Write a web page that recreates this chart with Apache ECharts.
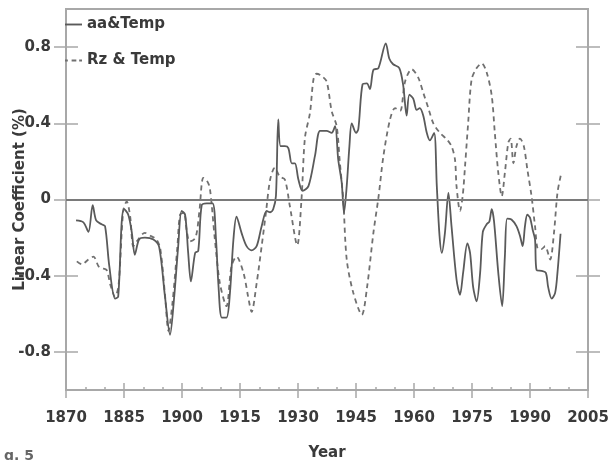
<!DOCTYPE html>
<html>
<head>
<meta charset="utf-8">
<script src="https://cdn.jsdelivr.net/npm/echarts@6/dist/echarts.min.js"></script>
<style>html,body{margin:0;padding:0;background:#fff}#c{width:610px;height:460px}</style>
</head>
<body>
<div id="c"></div>
<script>
var aaYears = [1872.6,1874.5,1875.8,1876.9,1877.8,1879.2,1880.1,1881.2,1882.7,1883.5,1884.4,1885.0,1886.1,1887.0,1887.8,1888.9,1890.4,1892.6,1894.1,1895.6,1896.9,1897.9,1899.0,1899.9,1900.8,1901.6,1902.3,1903.4,1904.2,1905.1,1906.4,1907.9,1908.8,1909.4,1910.3,1911.5,1912.4,1913.3,1914.1,1915.4,1916.7,1918.0,1919.3,1920.6,1921.9,1922.8,1923.6,1924.3,1924.9,1925.5,1926.6,1927.5,1928.4,1929.2,1930.1,1931.2,1932.7,1934.4,1935.7,1937.4,1938.7,1939.6,1940.4,1941.3,1941.9,1942.6,1943.3,1943.9,1945.0,1945.6,1946.7,1947.8,1948.6,1949.5,1950.8,1952.7,1953.6,1954.6,1956.2,1957.2,1958.1,1958.8,1959.8,1960.7,1961.5,1962.4,1963.3,1964.1,1965.2,1965.9,1966.6,1967.2,1968.0,1968.9,1969.7,1971.0,1971.9,1972.7,1973.8,1974.5,1975.3,1976.2,1977.1,1977.8,1978.8,1979.5,1980.1,1980.7,1981.8,1982.8,1983.5,1984.1,1985.2,1986.5,1987.4,1988.1,1988.7,1989.3,1990.0,1990.7,1991.3,1991.7,1993.0,1994.1,1994.7,1995.6,1996.5,1997.1,1997.9];
var aaValues = [-0.11,-0.12,-0.17,-0.03,-0.11,-0.13,-0.14,-0.35,-0.52,-0.51,-0.12,-0.05,-0.08,-0.17,-0.29,-0.21,-0.20,-0.21,-0.25,-0.51,-0.71,-0.53,-0.25,-0.06,-0.08,-0.28,-0.43,-0.28,-0.27,-0.03,-0.02,-0.02,-0.21,-0.44,-0.62,-0.62,-0.49,-0.21,-0.09,-0.175,-0.245,-0.267,-0.245,-0.14,-0.06,-0.067,-0.05,0.02,0.42,0.28,0.28,0.27,0.19,0.19,0.105,0.045,0.07,0.23,0.36,0.36,0.35,0.385,0.21,0.09,-0.07,0.07,0.28,0.40,0.35,0.37,0.605,0.61,0.58,0.68,0.69,0.82,0.74,0.71,0.69,0.60,0.44,0.55,0.53,0.47,0.48,0.44,0.35,0.31,0.35,0.07,-0.19,-0.28,-0.175,0.035,-0.14,-0.42,-0.50,-0.385,-0.23,-0.28,-0.46,-0.535,-0.385,-0.17,-0.13,-0.115,-0.05,-0.115,-0.385,-0.56,-0.30,-0.10,-0.105,-0.14,-0.19,-0.245,-0.14,-0.08,-0.095,-0.16,-0.21,-0.37,-0.375,-0.385,-0.46,-0.52,-0.49,-0.385,-0.18];

var rzYears = [1872.8,1874.1,1875.8,1877.1,1878.4,1879.2,1880.5,1881.5,1882.7,1883.6,1884.8,1885.7,1886.6,1887.4,1888.3,1890.4,1891.8,1893.4,1894.4,1895.6,1896.5,1897.5,1898.8,1899.5,1900.5,1901.2,1902.0,1903.5,1904.5,1905.5,1906.4,1907.2,1908.5,1909.8,1911.5,1912.8,1914.1,1915.9,1917.1,1918.0,1919.3,1920.6,1921.7,1922.8,1924.0,1925.3,1926.6,1927.9,1929.8,1930.9,1931.8,1933.1,1934.0,1934.8,1936.0,1937.4,1938.7,1940.0,1940.8,1941.7,1942.6,1944.3,1946.5,1947.8,1949.5,1950.8,1952.1,1953.8,1955.1,1956.4,1957.7,1959.4,1961.1,1962.4,1963.7,1965.0,1966.7,1968.5,1969.7,1970.6,1971.0,1971.9,1972.6,1973.2,1974.0,1974.9,1976.2,1977.5,1978.8,1980.1,1980.9,1981.8,1982.7,1983.5,1984.4,1985.0,1985.7,1986.5,1987.4,1988.4,1989.3,1990.4,1991.3,1992.1,1993.0,1993.9,1995.2,1996.2,1997.1,1998.0];
var rzValues = [-0.325,-0.34,-0.315,-0.30,-0.35,-0.36,-0.37,-0.45,-0.51,-0.45,-0.06,-0.01,-0.09,-0.245,-0.22,-0.175,-0.19,-0.21,-0.26,-0.50,-0.69,-0.55,-0.25,-0.08,-0.07,-0.16,-0.22,-0.20,-0.06,0.114,0.10,0.06,-0.21,-0.44,-0.56,-0.35,-0.30,-0.385,-0.51,-0.59,-0.44,-0.245,-0.07,0.105,0.167,0.12,0.105,-0.035,-0.24,0.0,0.325,0.455,0.63,0.66,0.65,0.62,0.465,0.385,0.20,0.0,-0.315,-0.49,-0.605,-0.47,-0.175,0.01,0.23,0.42,0.48,0.465,0.62,0.684,0.64,0.56,0.48,0.40,0.35,0.315,0.28,0.21,0.07,-0.06,0.02,0.175,0.40,0.63,0.69,0.715,0.667,0.545,0.35,0.14,0.017,0.14,0.30,0.32,0.19,0.28,0.32,0.28,0.16,0.017,-0.14,-0.26,-0.26,-0.245,-0.315,-0.175,0.035,0.13];

var yTickValues = [-0.8, -0.4, 0, 0.4, 0.8];
var seriesNames = ['aa&Temp', 'Rz & Temp'];

function pairs(xs, ys) { return xs.map(function (x, i) { return [x, ys[i]]; }); }

var FONT = 'DejaVu Sans';
var axisGray = '#a8a8a8';
var textCol = '#3a3a3a';

function xAx(inside, extra) {
  var o = {
    type: 'value', min: 1870, max: 2005, interval: 15, position: 'bottom',
    axisLine: { show: true, onZero: false, lineStyle: { color: axisGray, width: 2 } },
    axisTick: { show: true, inside: inside, length: inside ? 7 : 8, lineStyle: { color: axisGray, width: 1.5 } },
    splitLine: { show: false },
    axisLabel: { show: false }
  };
  return Object.assign(o, extra || {});
}
function yAx(pos, inside, extra) {
  var o = {
    type: 'value', min: -1, max: 1, position: pos,
    axisLine: { show: true, onZero: false, lineStyle: { color: axisGray, width: 2 } },
    axisTick: { show: true, inside: inside, length: 12, customValues: yTickValues, lineStyle: { color: axisGray, width: 1.5 } },
    splitLine: { show: false },
    axisLabel: { show: false }
  };
  return Object.assign(o, extra || {});
}

var chart = echarts.init(document.getElementById('c'));
chart.setOption({
  animation: false,
  backgroundColor: '#fff',
  grid: { left: 66, right: 22, top: 9, bottom: 70, show: true, borderColor: axisGray, borderWidth: 2,
          containLabel: false, outerBoundsMode: 'none' },
  legend: {
    orient: 'vertical', left: 60, top: 12, itemWidth: 17, itemHeight: 2, itemGap: 21,
    data: [
      { name: seriesNames[0], icon: 'path://M0,0h18v2h-18z' },
      { name: seriesNames[1], icon: 'path://M0,0h3v2h-3z M7,0h5v2h-5z M15,0h3v2h-3z' }
    ],
    textStyle: { fontFamily: FONT, fontWeight: 'bold', fontSize: 15, color: textCol, padding: [7, 0, 0, 0] }
  },
  xAxis: [
    xAx(false, {
      name: 'Year', nameLocation: 'middle', nameGap: 56, nameMoveOverlap: false,
      nameTextStyle: { fontFamily: FONT, fontWeight: 'bold', fontSize: 15, color: textCol },
      axisLabel: { show: true, margin: 21, fontFamily: FONT, fontWeight: 'bold', fontSize: 15, color: textCol,
        formatter: function (v) { return String(v); } }
    }),
    xAx(true, { minorTick: { show: true, splitNumber: 3, length: 3, lineStyle: { color: axisGray, width: 1.5 } } })
  ],
  yAxis: [
    yAx('left', false, {
      name: 'Linear Coefficient (%)', nameLocation: 'middle', nameGap: 38, nameMoveOverlap: false,
      nameTextStyle: { fontFamily: FONT, fontWeight: 'bold', fontSize: 15, color: textCol },
      axisLabel: { show: true, margin: 15, customValues: yTickValues, fontFamily: FONT, fontWeight: 'bold', fontSize: 15, color: textCol,
        formatter: function (v) { return v === 0 ? '0' : v.toFixed(1); } }
    }),
    yAx('left', true),
    yAx('right', false),
    yAx('right', true)
  ],
  series: [
    {
      name: seriesNames[0], type: 'line', xAxisIndex: 0, yAxisIndex: 0,
      data: pairs(aaYears, aaValues), symbol: 'none', smooth: 0.3,
      lineStyle: { color: '#5a5a5a', width: 1.8, type: 'solid' },
      itemStyle: { color: '#5a5a5a' },
      markLine: {
        silent: true, symbol: 'none', label: { show: false },
        lineStyle: { color: '#7a7a7a', width: 2, type: 'solid' },
        data: [{ yAxis: 0 }]
      },
      z: 3
    },
    {
      name: seriesNames[1], type: 'line', xAxisIndex: 0, yAxisIndex: 0,
      data: pairs(rzYears, rzValues), symbol: 'none', smooth: 0.3,
      lineStyle: { color: '#707070', width: 1.8, type: [5, 4] },
      itemStyle: { color: '#707070' },
      z: 2
    }
  ],
  graphic: [
    { type: 'text', left: 4, top: 449, style: { text: 'g. 5', font: 'bold 14px DejaVu Sans', fill: '#666' } }
  ]
});
</script>
</body>
</html>
